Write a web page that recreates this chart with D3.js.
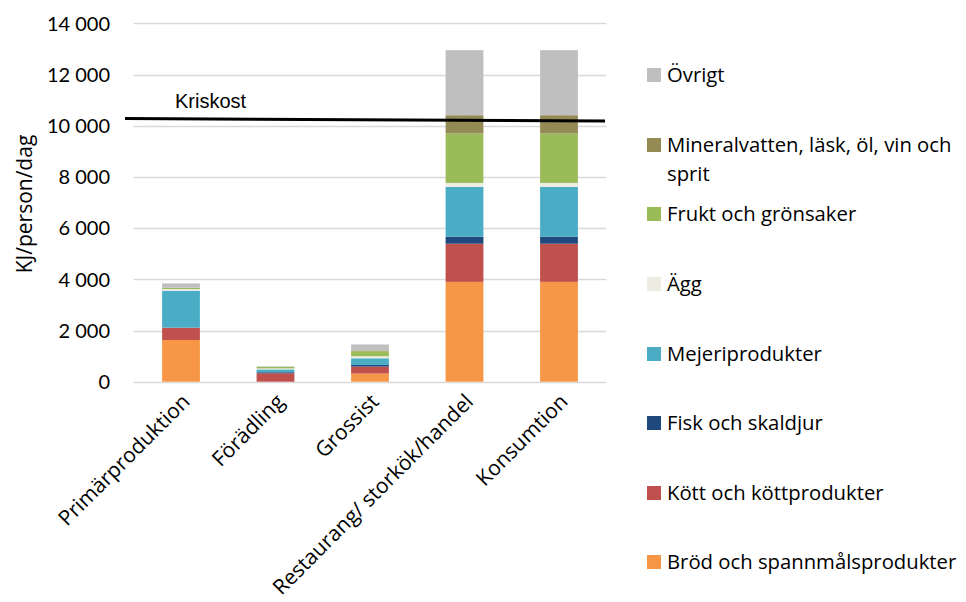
<!DOCTYPE html>
<html>
<head>
<meta charset="utf-8">
<script src="https://cdn.jsdelivr.net/npm/d3@7"></script>
<style>
  body { margin: 0; background: #fff; }
  text { font-family: "Open Sans", Lato, sans-serif; fill: #000; }
</style>
</head>
<body>
<script>
// kategorier längs x-axeln
var stages = ["Primärproduktion", "Förädling", "Grossist", "Restaurang/ storkök/handel", "Konsumtion"];

// serier, nerifrån och upp i staplarna (KJ/person/dag)
var seriesNames = ["Bröd och spannmålsprodukter", "Kött och köttprodukter", "Fisk och skaldjur",
  "Mejeriprodukter", "Ägg", "Frukt och grönsaker", "Mineralvatten, läsk, öl, vin och sprit", "Övrigt"];
var brod    = [1630,   0, 320, 3900, 3900];
var kott    = [ 480, 330, 270, 1490, 1490];
var fisk    = [   0,  40,  65,  270,  270];
var mejeri  = [1445, 110, 260, 1950, 1950];
var agg     = [  65,  40,  80,  155,  155];
var frukt   = [  50,  60, 195, 1930, 1930];
var dryck   = [   0,   0,  30,  715,  715];
var ovrigt  = [ 170,  20, 235, 2540, 2540];
var colors  = ["#F79646", "#C0504D", "#1F497D", "#4BACC6", "#EEECE1", "#9BBB59", "#948A54", "#BFBFBF"];

var yTicks = [0, 2000, 4000, 6000, 8000, 10000, 12000, 14000];
// kriskost-linjen, värde i vänster och höger ände
var kriskost = [10280, 10180];

var width = 966, height = 602;
var svg = d3.select("body").append("svg")
  .attr("width", width)
  .attr("height", height);

var x = d3.scaleBand().domain(stages).range([133.75, 606.25]).paddingInner(0.6).paddingOuter(0.3);
var y = d3.scaleLinear().domain([0, 14000]).range([381.7, 23.3]);

// bygg tabell för d3.stack
var allSeries = [brod, kott, fisk, mejeri, agg, frukt, dryck, ovrigt];
var table = stages.map(function(s, i) {
  var row = { stage: s };
  seriesNames.forEach(function(n, j) { row[n] = allSeries[j][i]; });
  return row;
});
var stacked = d3.stack().keys(seriesNames)(table);

// rutnät
svg.append("g")
  .selectAll("line")
  .data(yTicks)
  .enter().append("line")
    .attr("x1", 133.75).attr("x2", 606.25)
    .attr("y1", function(d) { return Math.round(y(d)) + 0.5; })
    .attr("y2", function(d) { return Math.round(y(d)) + 0.5; })
    .attr("stroke", "#D9D9D9")
    .attr("stroke-width", 1.3);

// y-axelns etiketter
var fmt = function(d) { return d3.format(",")(d).replace(/,/g, " "); };
svg.append("g")
  .selectAll("text")
  .data(yTicks)
  .enter().append("text")
    .attr("x", 110)
    .attr("y", function(d) { return y(d); })
    .attr("dy", "0.36em")
    .attr("text-anchor", "end")
    .style("font-family", "Lato, sans-serif")
    .style("font-size", "20px")
    .text(fmt);

svg.append("text")
  .attr("transform", "translate(32,204) rotate(-90)")
  .attr("text-anchor", "middle")
  .style("font-size", "21px")
  .text("KJ/person/dag");

// staplar
svg.append("g")
  .selectAll("g")
  .data(stacked)
  .enter().append("g")
    .attr("fill", function(d, i) { return colors[i]; })
  .selectAll("rect")
  .data(function(d) { return d; })
  .enter().append("rect")
    .attr("x", function(d) { return x(d.data.stage); })
    .attr("width", x.bandwidth())
    .attr("y", function(d) { return y(d[1]); })
    .attr("height", function(d) { return y(d[0]) - y(d[1]); });

// x-axelns etiketter, snett
svg.append("g")
  .selectAll("text")
  .data(stages)
  .enter().append("text")
    .attr("transform", function(d) {
      return "translate(" + (x(d) + x.bandwidth() / 2 + 10) + ",403) rotate(-45)";
    })
    .attr("text-anchor", "end")
    .style("font-size", "21px")
    .text(function(d) { return d; });

// kriskost
svg.append("line")
  .attr("x1", 125).attr("x2", 605)
  .attr("y1", y(kriskost[0])).attr("y2", y(kriskost[1]))
  .attr("stroke", "#000")
  .attr("stroke-width", 3);

svg.append("text")
  .attr("x", 175).attr("y", 108)
  .style("font-family", "'Liberation Sans', Arial, sans-serif")
  .style("font-size", "20px")
  .text("Kriskost");

// legend, uppifrån och ned
var legendY = [75, 145, 214, 284, 354, 423, 493, 562];
var legendOrder = seriesNames.slice().reverse();
var legend = svg.append("g")
  .selectAll("g")
  .data(legendOrder)
  .enter().append("g")
    .attr("transform", function(d, i) { return "translate(647," + legendY[i] + ")"; });

legend.append("rect")
  .attr("x", 0).attr("y", -7)
  .attr("width", 14).attr("height", 14)
  .attr("fill", function(d) { return colors[seriesNames.indexOf(d)]; });

legend.append("text")
  .attr("x", 20)
  .attr("dy", "0.36em")
  .style("font-size", "20.3px")
  .each(function(d) {
    var t = d3.select(this);
    if (d.indexOf("Mineralvatten") === 0) {
      t.append("tspan").attr("x", 20).text("Mineralvatten, läsk, öl, vin och");
      t.append("tspan").attr("x", 20).attr("dy", 29).text("sprit");
    } else {
      t.text(d);
    }
  });
</script>
</body>
</html>
